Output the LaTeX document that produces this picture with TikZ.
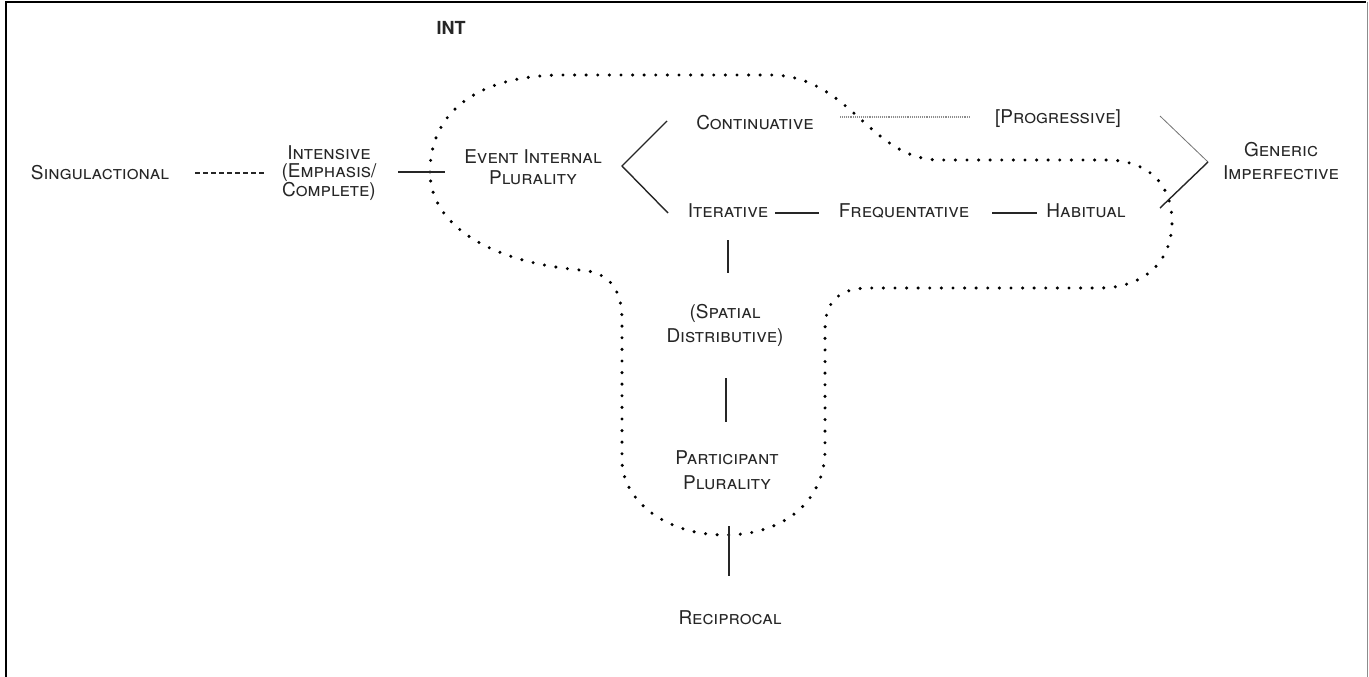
\documentclass[tikz,border=0pt]{standalone}
\usepackage{fontspec}
\setmainfont{TeX Gyre Heros}
\usetikzlibrary{calc}
\tikzset{
  term/.style={font=\fontsize{19}{20}\selectfont\scshape, text=black!85, inner sep=0pt, align=center},
  link/.style={line width=1.4pt, black!85},
  faint/.style={line width=0.8pt, black!55},
  blob/.style={line width=3.4pt, line cap=round, dash pattern=on 0pt off 11.6pt},
}
\begin{document}
\begin{tikzpicture}[x=1pt,y=-1pt]
\useasboundingbox (0,0) rectangle (1369,677);
% frame (open at the bottom)
\draw[line width=2pt] (6,677) -- (6,2) -- (1366,2);
\draw[line width=1pt, black!45] (1367.5,2) -- (1367.5,677);

% terms
\node[term] (sing) at (100,173) {Singulactional};
\node[term, font=\fontsize{19}{18.5}\selectfont\scshape] (intens) at (329,173) {Intensive\\(Emphasis/\\Complete)};
\node[term, font=\fontsize{19}{21}\selectfont\scshape] (event) at (533,167) {Event Internal\\Plurality};
\node[term] (cont) at (755,123) {Continuative};
\node[term] (prog) at (1058,119) {[Progressive]};
\node[term, font=\fontsize{19}{23}\selectfont\scshape] (generic) at (1281,161) {Generic\\Imperfective};
\node[term] (iter) at (728,211) {Iterative};
\node[term] (freq) at (904,211) {Frequentative};
\node[term] (habit) at (1086,211) {Habitual};
\node[term, font=\fontsize{19}{24}\selectfont\scshape] (spat) at (725,325) {(Spatial\\Distributive)};
\node[term, font=\fontsize{19}{25}\selectfont\scshape] (part) at (727,470) {Participant\\Plurality};
\node[term] (recip) at (730,618) {Reciprocal};
\node[font=\fontsize{18}{20}\selectfont\bfseries, text=black!85, inner sep=0pt] (int) at (451,28) {INT};

% dotted region
\draw[blob] (430,172)
  .. controls (430,110) and (480,76) .. (560,75)
  -- (770,75)
  .. controls (850,75) and (870,160) .. (940,160)
  -- (1110,160)
  .. controls (1150,162) and (1172,185) .. (1172,222)
  .. controls (1172,265) and (1140,288) .. (1100,288)
  -- (870,288)
  .. controls (840,288) and (825,300) .. (825,330)
  -- (825,450)
  .. controls (825,500) and (785,535) .. (725,535)
  .. controls (665,535) and (622,500) .. (622,460)
  -- (622,320)
  .. controls (622,290) and (610,272) .. (580,270)
  .. controls (490,262) and (430,225) .. (430,172);

% connectors
\draw[link, dash pattern=on 5pt off 3pt] ($(sing.center)+(95,0)$) -- ($(intens.center)+(-64,0)$);
\draw[link] ($(intens.center)+(69,-1)$) -- ($(event.center)+(-88,5)$);
\draw[link] ($(cont.center)+(-88,-2)$) -- ($(event.center)+(89,-1)$) -- ($(iter.center)+(-60,2)$);
\draw[line width=1.6pt, black!45, dash pattern=on 1pt off 0.9pt] ($(cont.center)+(85,-6)$) -- ($(prog.center)+(-88,-2)$);
\draw[link] ($(iter.center)+(47,2)$) -- ($(freq.center)+(-85,2)$);
\draw[link] ($(freq.center)+(88,2)$) -- ($(habit.center)+(-49,2)$);
\draw[faint] ($(prog.center)+(102,-3)$) -- ($(generic.center)+(-73,1)$) coordinate (gv);
\draw[link] (gv) -- ($(habit.center)+(74,-3)$);
\draw[link] ($(iter.center)+(0,29)$) -- ($(iter.center)+(0,62)$);
\draw[link] ($(spat.center)+(1,53)$) -- ($(spat.center)+(1,97)$);
\draw[link] ($(part.center)+(2,56)$) -- ($(part.center)+(2,106)$);
\end{tikzpicture}
\end{document}
